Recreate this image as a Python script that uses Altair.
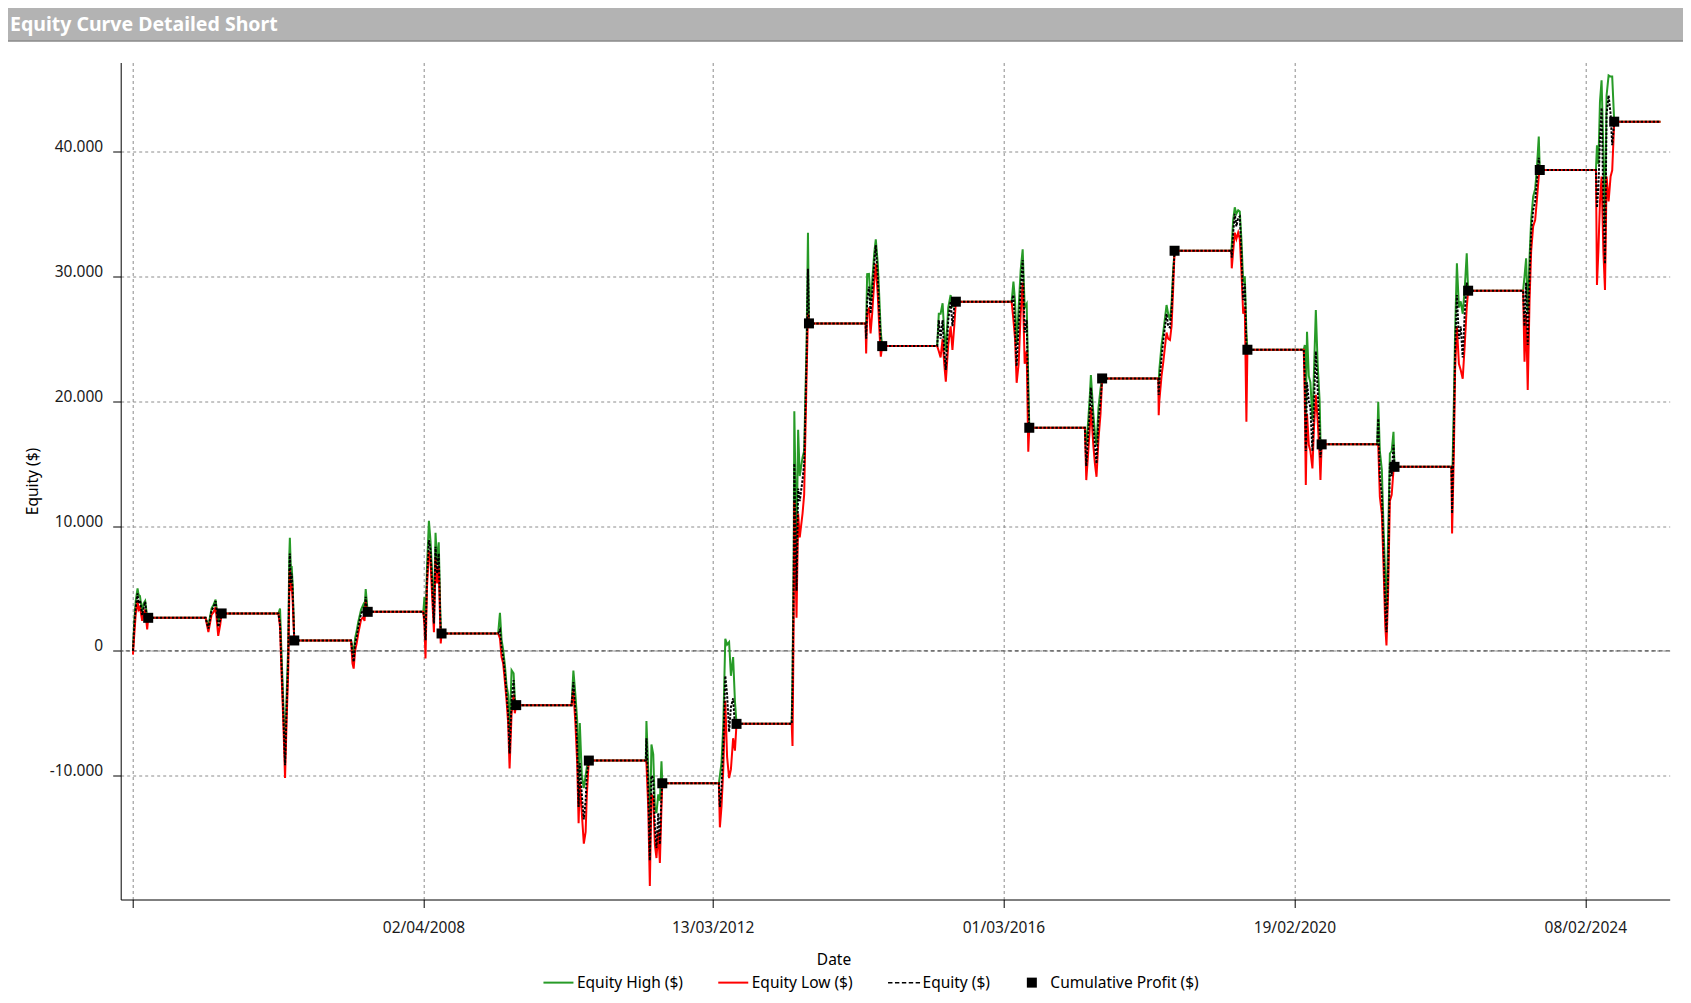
import altair as alt
import pandas as pd

# ---------------- data ----------------
dates = [
    # 2004
    "2004-04-15", "2004-04-22", "2004-04-29", "2004-05-08", "2004-05-13", "2004-05-20",
    "2004-05-31", "2004-06-07", "2004-06-15", "2004-06-25", "2004-06-30",
    # 2005
    "2005-04-12", "2005-04-26", "2005-05-12", "2005-05-22", "2005-06-01", "2005-06-14",
    "2005-06-24", "2005-07-01",
    # 2006
    "2006-04-10", "2006-04-18", "2006-04-26", "2006-05-04", "2006-05-13", "2006-05-21",
    "2006-05-29", "2006-06-03", "2006-06-06", "2006-06-11", "2006-06-15", "2006-06-20",
    "2006-06-28",
    # 2007
    "2007-04-07", "2007-04-14", "2007-04-20", "2007-04-27", "2007-05-05", "2007-05-13",
    "2007-05-27", "2007-06-07", "2007-06-13", "2007-06-19", "2007-06-24", "2007-06-29",
    # 2008
    "2008-04-01", "2008-04-07", "2008-04-12", "2008-04-19", "2008-04-29", "2008-05-07",
    "2008-05-15", "2008-05-24", "2008-06-01", "2008-06-09", "2008-06-17", "2008-06-24",
    "2008-06-27", "2008-07-01",
    # 2009
    "2009-04-09", "2009-04-18", "2009-04-26", "2009-05-04", "2009-05-13", "2009-05-21",
    "2009-05-29", "2009-06-05", "2009-06-15", "2009-06-25", "2009-07-01", "2009-07-08",
    # 2010
    "2010-04-10", "2010-04-19", "2010-04-29", "2010-05-08", "2010-05-15", "2010-05-21",
    "2010-05-31", "2010-06-10", "2010-06-19", "2010-06-25", "2010-07-05",
    # 2011
    "2011-04-15", "2011-04-18", "2011-04-27", "2011-05-05", "2011-05-13", "2011-05-22",
    "2011-05-30", "2011-06-07", "2011-06-16", "2011-06-24", "2011-07-02", "2011-07-06",
    # 2012
    "2012-04-13", "2012-04-18", "2012-04-26", "2012-05-05", "2012-05-15", "2012-05-24",
    "2012-06-03", "2012-06-12", "2012-06-23", "2012-07-02", "2012-07-10",
    # 2013
    "2013-04-11", "2013-04-15", "2013-04-21", "2013-04-24", "2013-05-05", "2013-05-13",
    "2013-05-21", "2013-06-04", "2013-06-12", "2013-06-24", "2013-07-01", "2013-07-06",
    # 2014
    "2014-04-14", "2014-04-17", "2014-04-22", "2014-05-01", "2014-05-09", "2014-05-17",
    "2014-05-27", "2014-06-04", "2014-06-14", "2014-06-21", "2014-06-29", "2014-07-06",
    # 2015
    "2015-04-06", "2015-04-14", "2015-04-23", "2015-05-03", "2015-05-11", "2015-05-19",
    "2015-05-31", "2015-06-12", "2015-06-21", "2015-06-30", "2015-07-08",
    # 2016
    "2016-04-11", "2016-04-20", "2016-04-28", "2016-05-06", "2016-05-16", "2016-05-26",
    "2016-06-05", "2016-06-15", "2016-06-25", "2016-07-03", "2016-07-08",
    # 2017
    "2017-04-11", "2017-04-18", "2017-04-28", "2017-05-06", "2017-05-11", "2017-05-23",
    "2017-05-31", "2017-06-08", "2017-06-18", "2017-06-28", "2017-07-06",
    # 2018
    "2018-04-12", "2018-04-14", "2018-04-17", "2018-04-28", "2018-05-07", "2018-05-23",
    "2018-05-31", "2018-06-09", "2018-06-17", "2018-06-25", "2018-07-02",
    # 2019
    "2019-04-11", "2019-04-13", "2019-04-20", "2019-04-28", "2019-05-06", "2019-05-15",
    "2019-05-23", "2019-05-31", "2019-06-09", "2019-06-17", "2019-06-25", "2019-06-30",
    # 2020
    "2020-04-06", "2020-04-11", "2020-04-16", "2020-04-22", "2020-05-01", "2020-05-09",
    "2020-05-19", "2020-05-27", "2020-06-05", "2020-06-14", "2020-06-24", "2020-06-28",
    "2020-07-04",
    # 2021
    "2021-04-07", "2021-04-12", "2021-04-20", "2021-04-30", "2021-05-08", "2021-05-17",
    "2021-05-23", "2021-05-31", "2021-06-09", "2021-06-18", "2021-06-27", "2021-07-02",
    # 2022
    "2022-04-12", "2022-04-15", "2022-04-24", "2022-04-30", "2022-05-09", "2022-05-19",
    "2022-05-28", "2022-06-07", "2022-06-17", "2022-06-27", "2022-07-04",
    # 2023
    "2023-04-04", "2023-04-11", "2023-04-19", "2023-04-27", "2023-05-06", "2023-05-14",
    "2023-05-24", "2023-06-03", "2023-06-11", "2023-06-21", "2023-06-26",
    # 2024
    "2024-04-01", "2024-04-06", "2024-04-13", "2024-04-21", "2024-04-29", "2024-05-08",
    "2024-05-16", "2024-05-24", "2024-06-03", "2024-06-13", "2024-06-21", "2024-07-01",
    "2025-02-17",
]

equity = [
    0, 2190, 3500, 4600, 3800, 4060, 2860, 3400, 3930, 2320, 2645,
    2645, 1790, 3260, 3500, 3980, 1920, 2460, 2995,
    2995, 2190, -1280, -4750, -9160, -4490, -480, 6000, 7800, 5400, 6200, 4860, 830,
    830, -210, -880, 590, 1120, 1920, 2990, 3260, 2800, 4330, 3600, 3125,
    3125, 2460, 850, 5660, 8870, 8070, 5400, 2190, 8340, 6200, 7800, 2990, 1600, 1390,
    1390, 1660, 320, -480, -1820, -3420, -5020, -8220, -3950, -2350, -4490, -4350,
    -4350, -2500, -4700, -7500, -12500, -9000, -11500, -13500, -12000, -9900, -8790,
    -8790, -7000, -11000, -16800, -10000, -10200, -14000, -15800, -13000, -15500, -11500, -10610,
    -10610, -12500, -11000, -7500, -2000, -3500, -6500, -4500, -3800, -6000, -5850,
    -5850, -3000, 6000, 15000, 4800, 13000, 12000, 13700, 15000, 23500, 30600, 26230,
    26230, 25000, 28100, 29170, 27030, 28630, 31000, 32500, 29970, 27300, 24890, 24410,
    24410, 26500, 25000, 26500, 24000, 22500, 26500, 28000, 26000, 27500, 27970,
    27970, 28500, 26000, 22800, 26000, 29000, 31300, 25500, 26500, 20000, 17870,
    17870, 14800, 17500, 19500, 21100, 18000, 16500, 15000, 18500, 20000, 21820,
    21820, 20500, 21500, 23500, 24900, 27000, 26000, 25900, 27300, 30000, 32050,
    32050, 31500, 33500, 35000, 34000, 34700, 34800, 32000, 28100, 29400, 24500, 24120,
    24120, 22000, 16000, 21500, 20000, 19500, 16000, 20000, 24000, 21000, 17500, 15500, 16540,
    16540, 18600, 14000, 12500, 8500, 3500, 1500, 6000, 15000, 14000, 16500, 14740,
    14740, 11000, 18000, 24000, 28500, 25000, 26000, 23500, 27000, 29500, 28850,
    28850, 26000, 29500, 24500, 30000, 33500, 35300, 36000, 37500, 39500, 38520,
    38520, 35500, 37000, 41000, 43500, 36000, 31000, 43000, 44500, 43000, 40500, 42390,
    42390,
]

equity_high = [
    0, 2460, 4000, 5000, 4500, 4400, 3100, 3800, 4000, 2700, 2645,
    2645, 2000, 3400, 3700, 4100, 2300, 2800, 2995,
    2995, 3390, -500, -4000, -8500, -3500, 500, 7500, 9050, 6500, 6800, 5300, 830,
    830, 300, -300, 1000, 1600, 2320, 3300, 3700, 3300, 4940, 4000, 3125,
    3125, 4330, 1500, 6500, 10420, 8800, 6200, 3000, 9450, 7000, 8700, 3600, 2000, 1390,
    1390, 3040, 900, 100, -1200, -2800, -3500, -6500, -1550, -1800, -3800, -4350,
    -4350, -1580, -3500, -5600, -10500, -5790, -10000, -11000, -10000, -9300, -8790,
    -8790, -5630, -9500, -15000, -7500, -8300, -12500, -13000, -11500, -12000, -8840, -10610,
    -10610, -10000, -9000, -6000, 960, 500, 700, -2000, -500, -4000, -5850,
    -5850, -2000, 8000, 19200, 8000, 17700, 14000, 15500, 16000, 24500, 33500, 26230,
    26230, 26000, 30180, 30200, 28000, 29500, 31800, 32960, 31000, 28500, 25500, 24410,
    24410, 27000, 27000, 27840, 25500, 24000, 27500, 28500, 27500, 28000, 27970,
    27970, 29570, 28000, 24500, 27500, 30500, 32160, 27500, 27800, 21500, 17870,
    17870, 16500, 18500, 20500, 22090, 19000, 17500, 16500, 19500, 21000, 21820,
    21820, 21500, 22500, 24500, 25560, 27700, 27000, 26500, 27800, 30500, 32050,
    32050, 32500, 34500, 35530, 35000, 35300, 35200, 33000, 29500, 30000, 25500, 24120,
    24120, 24500, 19000, 25560, 22000, 21500, 18500, 22500, 27300, 23000, 20000, 17000, 16540,
    16540, 19950, 16000, 14500, 10000, 6000, 3000, 9000, 15810, 16000, 17550, 14740,
    14740, 13000, 20000, 25500, 31040, 27500, 28000, 27000, 29000, 31840, 28850,
    28850, 30000, 31440, 27000, 31500, 34500, 36380, 37000, 38500, 41190, 38520,
    38520, 40500, 39000, 44000, 45700, 40000, 34000, 44500, 46100, 46000, 46000, 42390,
    42390,
]

equity_low = [
    -300, 1390, 3000, 4000, 3300, 3500, 2400, 2900, 3300, 1710, 2645,
    2645, 1500, 2900, 3100, 3500, 1200, 2100, 2995,
    2995, 1900, -2000, -5500, -10180, -5500, -1500, 4500, 6500, 4800, 5400, 4000, 830,
    830, -1000, -1420, 0, 600, 1400, 2500, 2700, 2400, 3900, 3200, 3125,
    3125, 2000, -610, 5000, 8000, 7200, 4400, 1500, 7500, 5400, 6800, 2300, 590, 1390,
    1390, 1000, -500, -1000, -2500, -4000, -5800, -9430, -5000, -3500, -5000, -4350,
    -4350, -3200, -5800, -9000, -13800, -10500, -13000, -15450, -14500, -11500, -8790,
    -8790, -9000, -12500, -18830, -11500, -11800, -15500, -16600, -14500, -16990, -12500, -10610,
    -10610, -14140, -12500, -9500, -4000, -8500, -10200, -9500, -7000, -8000, -5850,
    -5850, -7630, 3000, 12000, 2650, 11000, 9090, 11000, 12500, 22000, 27000, 26230,
    26230, 23830, 27000, 27500, 25430, 27000, 29500, 31000, 28500, 26000, 23560, 24410,
    24410, 24000, 23500, 25000, 23000, 21560, 24500, 26000, 24100, 26000, 27970,
    27970, 26500, 25000, 21470, 23000, 27000, 29500, 23000, 24000, 15950, 17870,
    17870, 13680, 16000, 18000, 19500, 16500, 15000, 13940, 17000, 19000, 21820,
    21820, 18880, 20000, 22000, 23160, 25500, 25000, 24900, 26000, 29000, 32050,
    32050, 30640, 32000, 33500, 33000, 33500, 33000, 30500, 27000, 27570, 18350, 24120,
    24120, 20000, 13280, 19000, 16500, 16000, 14610, 18000, 20500, 18500, 15500, 13680, 16540,
    16540, 16500, 12340, 11000, 7000, 2000, 430, 4500, 12000, 12500, 14500, 14740,
    14740, 9400, 16000, 22500, 26000, 23000, 22500, 21800, 24500, 27500, 28850,
    28850, 23160, 27000, 20890, 28000, 32000, 34000, 34500, 36000, 38000, 38520,
    38520, 29300, 32000, 36000, 38000, 32000, 28900, 38000, 36000, 38000, 38500, 42390,
    42390,
]

cp_dates = [
    "2004-06-30", "2005-07-01", "2006-06-28", "2007-06-29", "2008-07-01", "2009-07-08",
    "2010-07-05", "2011-07-06", "2012-07-10", "2013-07-06", "2014-07-06", "2015-07-08",
    "2016-07-08", "2017-07-06", "2018-07-02", "2019-06-30", "2020-07-04", "2021-07-02",
    "2022-07-04", "2023-06-26", "2024-07-01",
]
cp_values = [
    2645, 2995, 830, 3125, 1390, -4350, -8790, -10610, -5850, 26230, 24410, 27970,
    17870, 21820, 32050, 24120, 16540, 14740, 28850, 38520, 42390,
]

series_names = ["Equity High ($)", "Equity Low ($)", "Equity ($)", "Cumulative Profit ($)"]
chart_title = "Equity Curve Detailed Short"

# ---------------- styling ----------------
FONT = "Noto Sans"
GREEN = "#279B27"
RED = "#FF0000"
BLACK = "#000000"
series_colors = [GREEN, RED, BLACK, BLACK]
LINE_SYM = "M-3,-0.2H3V0.2H-3Z"
DASH_SYM = ("M-3.2,-0.15H-2.32V0.15H-3.2Z M-1.82,-0.15H-0.94V0.15H-1.82Z "
            "M-0.44,-0.15H0.44V0.15H-0.44Z M0.94,-0.15H1.82V0.15H0.94Z "
            "M2.32,-0.15H3.2V0.15H2.32Z")
series_shapes = [LINE_SYM, LINE_SYM, DASH_SYM, "square"]

W, H = 1549, 837
PAD = {"left": 112.7, "top": 54.5, "right": 13.3, "bottom": 94.5}

df = pd.DataFrame({
    "date": pd.to_datetime(dates),
    "equity": equity,
    "high": equity_high,
    "low": equity_low,
})
cp = pd.DataFrame({
    "date": pd.to_datetime(cp_dates),
    "profit": cp_values,
    "series": ["Cumulative Profit ($)"] * len(cp_values),
})

x_ticks = [
    alt.DateTime(year=2004, month=4, date=15),
    alt.DateTime(year=2008, month=4, date=2),
    alt.DateTime(year=2012, month=3, date=13),
    alt.DateTime(year=2016, month=3, date=1),
    alt.DateTime(year=2020, month=2, date=19),
    alt.DateTime(year=2024, month=2, date=8),
]
y_ticks = [-10000, 0, 10000, 20000, 30000, 40000]

x_scale = alt.Scale(
    domain=[alt.DateTime(year=2004, month=2, date=14),
            alt.DateTime(year=2025, month=4, date=3, hours=12)],
    nice=False,
)
y_scale = alt.Scale(domain=[-19920, 47130], nice=False, zero=False)

x_axis = alt.Axis(
    values=x_ticks,
    labelExpr="datum.value < 1104537600000 ? '' : timeFormat(datum.value, '%d/%m/%Y')",
    title="Date", titleX=712.8, titleY=64.7, titleAlign="center",
    titleBaseline="alphabetic", tickSize=8, labelPadding=25.4,
    labelBaseline="alphabetic", labelOverlap=False, labelFlush=False, grid=True,
)
y_axis = alt.Axis(
    values=y_ticks,
    labelExpr="replace(replace(format(datum.value, ','), ',', '.'), '\u2212', '-')",
    title="Equity ($)", titleX=-83.5, titleY=418.5, titleAngle=270,
    titleAlign="center", titleBaseline="alphabetic",
    tickSize=8, labelPadding=10, labelBaseline="alphabetic", grid=True,
)

X_ENC = alt.X("date:T", scale=x_scale, axis=x_axis)


def y_enc(field):
    return alt.Y(field, scale=y_scale, axis=y_axis)


# title bar (decoration above the plot)
title_df = pd.DataFrame({"t": [chart_title]})
bar = alt.Chart(title_df).mark_rect(color="#B3B3B3").encode(
    x=alt.value(-PAD["left"]), x2=alt.value(W + PAD["right"]),
    y=alt.value(-PAD["top"]), y2=alt.value(-21.5),
)
bar_edge = alt.Chart(title_df).mark_rule(color="#8A8A8A", strokeWidth=1.5).encode(
    x=alt.value(-PAD["left"]), x2=alt.value(W + PAD["right"]),
    y=alt.value(-21.5),
)
title_txt = alt.Chart(title_df).mark_text(
    align="left", baseline="alphabetic", font=FONT, fontWeight="bold",
    fontSize=19.5, color="white",
).encode(x=alt.value(-110.7), y=alt.value(-31.8), text="t:N")

base = alt.Chart(df)
hi_line = base.mark_line(color=GREEN, strokeWidth=2).encode(x=X_ENC, y=y_enc("high:Q"))
lo_line = base.mark_line(color=RED, strokeWidth=2).encode(x=X_ENC, y=y_enc("low:Q"))
eq_line = base.mark_line(color=BLACK, strokeWidth=2, strokeDash=[2.5, 1.5]).encode(
    x=X_ENC, y=y_enc("equity:Q"))

zero_df = pd.DataFrame({"zero": [0]})
zero_line = alt.Chart(zero_df).mark_rule(
    color="#555555", strokeWidth=1.4, strokeDash=[4, 3]
).encode(y=y_enc("zero:Q"))

legend_props = dict(
    title=None, orient="none", legendX=430, legendY=912, direction="horizontal",
    symbolSize=100, symbolStrokeWidth=0, symbolFillColor=BLACK,
    labelOffset=10.75, columnPadding=33.8, labelFont=FONT, labelFontSize=15.5,
    labelColor="#000000", labelLimit=400, padding=0,
)
points = alt.Chart(cp).mark_point(filled=True, opacity=1, size=100).encode(
    x=X_ENC,
    y=y_enc("profit:Q"),
    color=alt.Color("series:N", scale=alt.Scale(domain=series_names, range=series_colors),
                    legend=alt.Legend(**legend_props)),
    shape=alt.Shape("series:N", scale=alt.Scale(domain=series_names, range=series_shapes),
                    legend=alt.Legend(**legend_props)),
)

chart = alt.layer(
    bar, bar_edge, title_txt, zero_line, hi_line, lo_line, eq_line, points
).properties(
    width=W, height=H,
    autosize=alt.AutoSizeParams(type="none"),
    padding=PAD,
).configure(
    font=FONT
).configure_view(
    strokeWidth=0
).configure_axis(
    domainColor="#000000", domainWidth=1, tickColor="#000000", tickWidth=1,
    labelFont=FONT, labelFontSize=15.5, labelColor="#1A1A1A",
    titleFont=FONT, titleFontSize=15.5, titleFontWeight="normal", titleColor="#000000",
    gridColor="#8C8C8C", gridDash=[3, 3], gridWidth=1,
)

chart.save("out.html", embed_options={"renderer": "svg", "actions": False})
